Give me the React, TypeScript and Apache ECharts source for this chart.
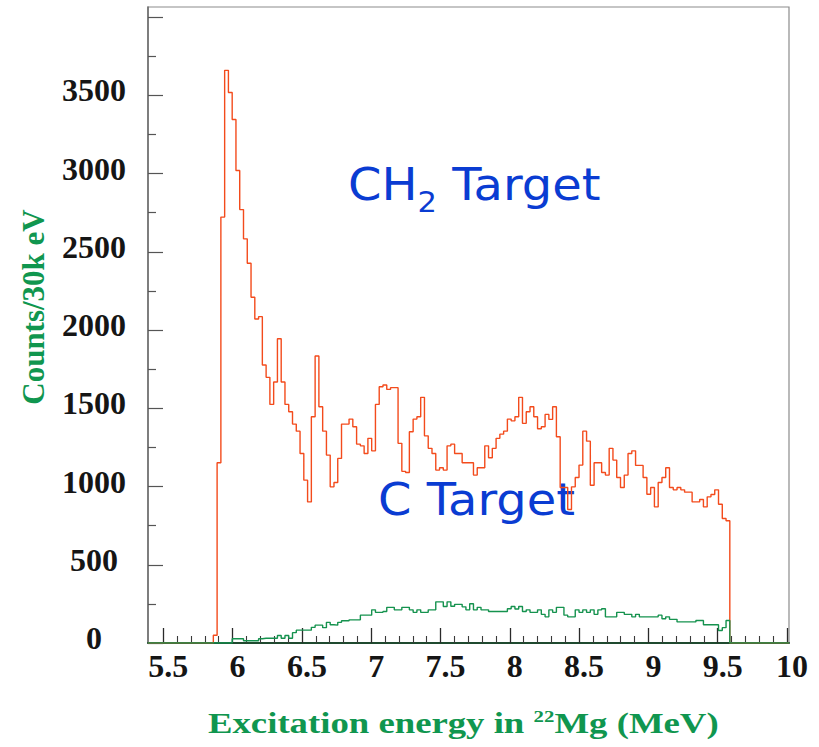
import React, { useEffect, useRef } from 'react';
import * as echarts from 'echarts';

// Histogram binning (MeV)
const BIN_START = 5.861;
const BIN_WIDTH = 0.0272;

// CH2 target counts per bin
const ch2Counts = [
  50, 1152, 2722, 3660, 3519, 3346, 3020, 2770, 2583, 2427,
  2210, 2071, 2086, 1777, 1698, 1525, 1668, 1945, 1668, 1525,
  1478, 1399, 1354, 1211, 1041, 902, 1446, 1834, 1510, 1354,
  1201, 998, 1026, 1180, 1399, 1399, 1431, 1382, 1271, 1260,
  1211, 1308, 1228, 1525, 1638, 1649, 1621, 1632, 1632, 1276,
  1097, 1090, 1350, 1431, 1446, 1570, 1324, 1244, 1211, 1105,
  1120, 1105, 1260, 1271, 1211, 1211, 1152, 1152, 1152, 1073,
  1120, 1120, 1260, 1184, 1244, 1308, 1335, 1354, 1431, 1420,
  1446, 1570, 1404, 1478, 1510, 1446, 1369, 1382, 1461, 1429,
  1510, 1318, 994, 994, 853, 998, 1058, 1137, 1354, 1290,
  1008, 1152, 1152, 1090, 1073, 1244, 1169, 1058, 994, 1073,
  1211, 1228, 1135, 1135, 1058, 951, 994, 870, 1026, 1058,
  1120, 994, 979, 994, 979, 964, 964, 902, 902, 917,
  870, 934, 949, 979, 887, 796, 781,
];

// C target counts per bin
const cCounts = [
  0, 0, 0, 0, 0, 27, 27, 27, 14, 14,
  14, 14, 27, 30, 30, 30, 30, 48, 30, 48,
  30, 66, 82, 82, 82, 82, 100, 114, 114, 98,
  132, 117, 114, 132, 142, 142, 148, 148, 148, 178,
  178, 178, 212, 196, 196, 201, 228, 228, 212, 212,
  228, 228, 212, 196, 212, 196, 196, 212, 212, 263,
  263, 233, 263, 235, 247, 247, 231, 212, 251, 212,
  228, 212, 212, 201, 201, 201, 201, 201, 219, 233,
  217, 233, 201, 212, 196, 196, 212, 183, 167, 212,
  196, 228, 228, 178, 167, 167, 212, 196, 212, 196,
  212, 183, 212, 219, 167, 167, 167, 196, 196, 183,
  183, 167, 183, 167, 167, 167, 167, 167, 178, 155,
  167, 151, 151, 135, 135, 135, 135, 135, 144, 144,
  117, 117, 117, 117, 80, 98, 144,
];

const xMajorTicks = [5.5, 6, 6.5, 7, 7.5, 8, 8.5, 9, 9.5, 10];
const xTickLabels = ['5.5', '6', '6.5', '7', '7.5', '8', '8.5', '9', '9.5', '10'];
const yMajorTicks = [0, 500, 1000, 1500, 2000, 2500, 3000, 3500, 4000];
const yLabelTicks = [0, 500, 1000, 1500, 2000, 2500, 3000, 3500];
const yMinorTicks = [250, 750, 1250, 1750, 2250, 2750, 3250, 3750];

const X_MIN = 5.3896;
const X_MAX = 10.0144;
const Y_MAX = 4065;

const xMinorTicks: number[] = [];
for (let i = 56; i <= 99; i++) if (i % 5 !== 0) xMinorTicks.push(i / 10);

function histData(counts: number[]) {
  const pts: number[][] = [[X_MIN, 0]];
  counts.forEach((c, i) => pts.push([BIN_START + i * BIN_WIDTH, c]));
  pts.push([BIN_START + counts.length * BIN_WIDTH, 0]);
  pts.push([X_MAX, 0]);
  return pts;
}

const SERIF = '"Liberation Serif", "Times New Roman", serif';
const SANS = '"DejaVu Sans", sans-serif';
const GREEN_TEXT = '#10964f';
const BLUE = '#0a3cd2';

export default function App() {
  const ref = useRef<HTMLDivElement>(null);
  useEffect(() => {
    if (!ref.current) return;
    const chart = echarts.init(ref.current, undefined, { renderer: 'svg' });
    const labelStyle = {
      fontFamily: SERIF,
      fontWeight: 'bold' as const,
      fontSize: 32,
      color: '#151515',
    };
    chart.setOption({
      animation: false,
      backgroundColor: '#ffffff',
      grid: {
        left: 148,
        right: 30,
        top: 7,
        bottom: 104,
        show: true,
        borderColor: '#8c8c8c',
        borderWidth: 1.2,
      },
      xAxis: [
        {
          type: 'value',
          min: X_MIN,
          max: X_MAX,
          position: 'bottom',
          axisLine: { show: true, onZero: false, lineStyle: { color: '#1f4a2f', width: 2 } },
          axisTick: {
            show: true,
            inside: true,
            length: 15,
            customValues: xMajorTicks,
            lineStyle: { color: '#2a2a2a', width: 1.3 },
          },
          axisLabel: {
            show: true,
            customValues: xMajorTicks,
            formatter: (v: number) => xTickLabels[xMajorTicks.indexOf(v)] ?? String(v),
            margin: 7,
            padding: [0, 0, 0, 10],
            ...labelStyle,
          },
          splitLine: { show: false },
        },
        {
          type: 'value',
          min: X_MIN,
          max: X_MAX,
          position: 'bottom',
          axisLine: { show: false },
          axisTick: {
            show: true,
            inside: true,
            length: 7,
            customValues: xMinorTicks,
            lineStyle: { color: '#3a3a3a', width: 1.1 },
          },
          axisLabel: { show: false },
          splitLine: { show: false },
        },
      ],
      yAxis: [
        {
          type: 'value',
          min: 0,
          max: Y_MAX,
          position: 'left',
          axisLine: { show: true, onZero: false, lineStyle: { color: '#6a6a6a', width: 1.5 } },
          axisTick: {
            show: true,
            inside: true,
            length: 15,
            customValues: yMajorTicks,
            lineStyle: { color: '#555555', width: 1.2 },
          },
          axisLabel: {
            show: true,
            customValues: yLabelTicks,
            formatter: (v: number) => String(v),
            align: 'center',
            verticalAlign: 'bottom',
            lineHeight: 10,
            margin: 54,
            ...labelStyle,
          },
          splitLine: { show: false },
        },
        {
          type: 'value',
          min: 0,
          max: Y_MAX,
          position: 'left',
          axisLine: { show: false },
          axisTick: {
            show: true,
            inside: true,
            length: 8,
            customValues: yMinorTicks,
            lineStyle: { color: '#555555', width: 1.2 },
          },
          axisLabel: { show: false },
          splitLine: { show: false },
        },
      ],
      series: [
        {
          type: 'line',
          name: 'CH2 Target',
          xAxisIndex: 0,
          yAxisIndex: 0,
          data: histData(ch2Counts),
          step: 'end',
          symbol: 'none',
          showSymbol: false,
          lineStyle: { color: '#f34b1c', width: 1.4 },
          z: 2,
        },
        {
          type: 'line',
          name: 'C Target',
          xAxisIndex: 0,
          yAxisIndex: 0,
          data: histData(cCounts),
          step: 'end',
          symbol: 'none',
          showSymbol: false,
          lineStyle: { color: '#15924e', width: 1.4 },
          z: 3,
        },
      ],
      graphic: [
        {
          type: 'text',
          x: 33,
          y: 307,
          rotation: Math.PI / 2,
          style: {
            text: 'Counts/30k eV',
            font: `bold 31px ${SERIF}`,
            fill: GREEN_TEXT,
            textAlign: 'center',
            textVerticalAlign: 'middle',
            align: 'center',
            verticalAlign: 'middle',
          },
        },
        {
          type: 'text',
          x: 208,
          y: 723,
          scaleX: 1.225,
          style: {
            text: '{t|Excitation energy in }{s|22}{t|Mg (MeV)}',
            fill: GREEN_TEXT,
            textAlign: 'left',
            textVerticalAlign: 'middle',
            align: 'left',
            verticalAlign: 'middle',
            rich: {
              t: { fontFamily: SERIF, fontWeight: 'bold', fontSize: 30, fill: GREEN_TEXT, color: GREEN_TEXT },
              s: {
                fontFamily: SERIF,
                fontWeight: 'bold',
                fontSize: 17,
                fill: GREEN_TEXT,
                color: GREEN_TEXT,
                verticalAlign: 'top',
              },
            },
          },
        },
        {
          type: 'text',
          x: 348,
          y: 185,
          scaleX: 1.09,
          style: {
            text: '{m|CH}{s|2}{m| Target}',
            fill: BLUE,
            textAlign: 'left',
            textVerticalAlign: 'middle',
            align: 'left',
            verticalAlign: 'middle',
            rich: {
              m: { fontFamily: SANS, fontSize: 44, lineHeight: 62, fill: BLUE, color: BLUE },
              s: {
                fontFamily: SANS,
                fontSize: 28,
                lineHeight: 28,
                fill: BLUE,
                color: BLUE,
                verticalAlign: 'bottom',
              },
            },
          },
        },
        {
          type: 'text',
          x: 378,
          y: 500,
          scaleX: 1.09,
          style: {
            text: 'C Target',
            font: `44px ${SANS}`,
            fill: BLUE,
            textAlign: 'left',
            textVerticalAlign: 'middle',
            align: 'left',
            verticalAlign: 'middle',
          },
        },
      ],
    });
    return () => chart.dispose();
  }, []);
  return (
    <div
      ref={ref}
      style={{ position: 'fixed', left: 0, top: 0, width: 819, height: 747 }}
    />
  );
}
